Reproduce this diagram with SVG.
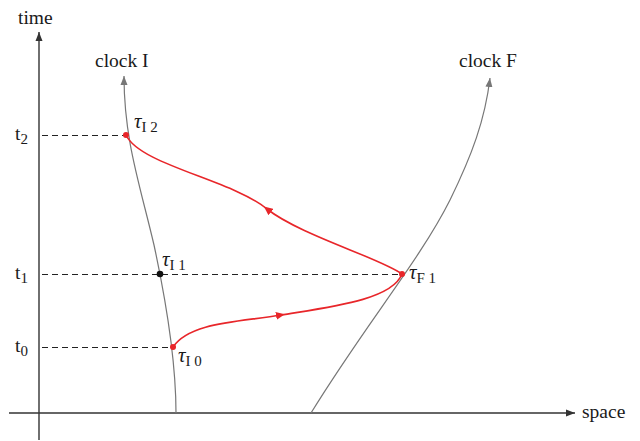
<svg xmlns="http://www.w3.org/2000/svg" width="640" height="441" viewBox="0 0 640 441">
<style>
text{font-family:"Liberation Serif","Times New Roman",serif;fill:#1a1a1a;font-size:19.5px}
.axis{stroke:#333;stroke-width:1.4;fill:none}
.clock{stroke:#777;stroke-width:1.2;fill:none}
.dash{stroke:#222;stroke-width:1.1;stroke-dasharray:6,4;fill:none}
.sig{stroke:#e8262a;stroke-width:1.6;fill:none}
.tau{font-style:italic;font-size:21px}
.sub{font-size:15px;font-style:normal}
</style>
<defs>
<marker id="ax" markerWidth="10" markerHeight="8" refX="9" refY="4" orient="auto" markerUnits="userSpaceOnUse"><path d="M0,0.5 L9,4 L0,7.5 Z" fill="#333"/></marker>
<marker id="cl" markerWidth="10" markerHeight="8" refX="9" refY="4" orient="auto" markerUnits="userSpaceOnUse"><path d="M0,0.5 L9,4 L0,7.5 Z" fill="#777"/></marker>
<marker id="rd" markerWidth="10" markerHeight="8" refX="5" refY="4" orient="auto" markerUnits="userSpaceOnUse"><path d="M0,0 L9,4 L0,8 Z" fill="#e8262a"/></marker>
</defs>
<g id="axes">
<path class="axis" d="M39,440 L39,32" marker-end="url(#ax)"/>
<path class="axis" d="M9,413 L575,413" marker-end="url(#ax)"/>
<text x="18" y="24">time</text>
<text x="582" y="418">space</text>
</g>
<g id="clockI">
<path class="clock" d="M176,413 C176,370 168,310 154,245 C140,185 124,140 124,76" marker-end="url(#cl)"/>
<text x="95" y="67">clock I</text>
</g>
<g id="clockF">
<path class="clock" d="M311,413 C365,325 420,260 450,200 C472,155 485,120 490,78" marker-end="url(#cl)"/>
<text x="459" y="67">clock F</text>
</g>
<g id="ticks">
<path class="dash" d="M42,135.5 L126,135.5"/>
<path class="dash" d="M42,274.5 L402,274.5"/>
<path class="dash" d="M42,347.5 L173,347.5"/>
<text x="15" y="140">t<tspan class="sub" dy="4">2</tspan></text>
<text x="15" y="279">t<tspan class="sub" dy="4">1</tspan></text>
<text x="15" y="352">t<tspan class="sub" dy="4">0</tspan></text>
</g>
<g id="connectors">
<path class="sig" d="M173,347 C190,322 240,322 281,315" marker-end="url(#rd)"/>
<path class="sig" d="M281,315 C330,307 392,300 402,274"/>
<path class="sig" d="M402,274 C380,258 300,235 267,209" marker-end="url(#rd)"/>
<path class="sig" d="M267,209 C232,180 140,165 126,135"/>
</g>
<g id="tauI2">
<circle cx="126" cy="135" r="3" fill="#e8262a"/>
<text x="134" y="128" class="tau">τ<tspan class="sub" dy="4">I 2</tspan></text>
</g>
<g id="tauI1">
<circle cx="160" cy="274" r="3.3" fill="#111"/>
<text x="162" y="266" class="tau">τ<tspan class="sub" dy="4">I 1</tspan></text>
</g>
<g id="tauF1">
<circle cx="402" cy="274" r="3" fill="#e8262a"/>
<text x="409" y="279" class="tau">τ<tspan class="sub" dy="4">F 1</tspan></text>
</g>
<g id="tauI0">
<circle cx="173" cy="347" r="3" fill="#e8262a"/>
<text x="178" y="362" class="tau">τ<tspan class="sub" dy="4">I 0</tspan></text>
</g>
</svg>
